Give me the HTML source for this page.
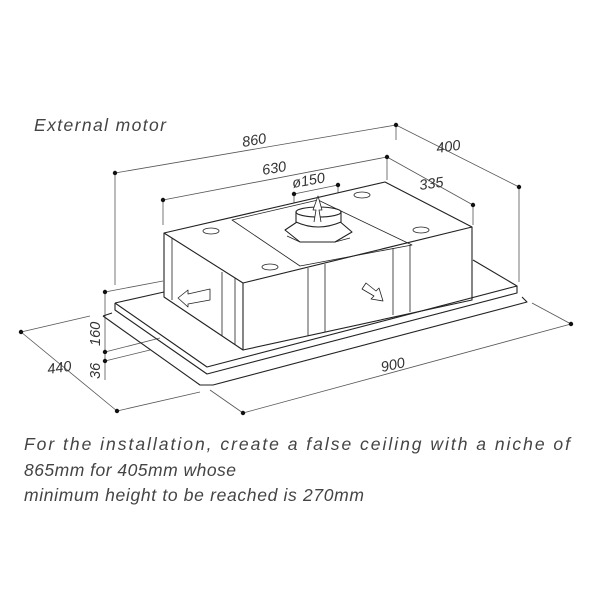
<!DOCTYPE html>
<html><head><meta charset="utf-8"><style>html,body{margin:0;padding:0;background:#fff}</style></head>
<body>
<svg width="600" height="600" viewBox="0 0 600 600" xmlns="http://www.w3.org/2000/svg" font-family="Liberation Sans, sans-serif" font-style="italic" fill="none">
<g stroke="#555" stroke-width="0.8">
<line x1="115" y1="173" x2="396" y2="125"/>
<line x1="396" y1="125" x2="519" y2="187"/>
<line x1="163" y1="200" x2="387" y2="157"/>
<line x1="387" y1="157" x2="473" y2="205"/>
<line x1="294" y1="194" x2="338" y2="185"/>
<line x1="115" y1="173" x2="115" y2="285"/>
<line x1="396" y1="125" x2="396" y2="140"/>
<line x1="519" y1="187" x2="519" y2="282"/>
<line x1="163" y1="200" x2="163" y2="225"/>
<line x1="387" y1="157" x2="387" y2="180"/>
<line x1="473" y1="205" x2="473" y2="225"/>
<line x1="294" y1="194" x2="294" y2="215"/>
<line x1="338" y1="185" x2="338" y2="205"/>
<line x1="105" y1="292" x2="105" y2="380"/>
<line x1="105" y1="292" x2="163" y2="281"/>
<line x1="105" y1="352" x2="160" y2="338"/>
<line x1="105" y1="361" x2="150" y2="350"/>
<line x1="21" y1="332" x2="117" y2="411"/>
<line x1="21" y1="332" x2="90" y2="316"/>
<line x1="117" y1="411" x2="200" y2="392"/>
<line x1="243" y1="413" x2="571" y2="324"/>
<line x1="243" y1="413" x2="210" y2="390"/>
<line x1="571" y1="324" x2="532" y2="303"/>
</g>
<g fill="#111">
<circle cx="115" cy="173" r="2.2"/><circle cx="396" cy="125" r="2.2"/><circle cx="519" cy="187" r="2.2"/>
<circle cx="163" cy="200" r="2.2"/><circle cx="387" cy="157" r="2.2"/><circle cx="473" cy="205" r="2.2"/>
<circle cx="294" cy="194" r="2.2"/><circle cx="338" cy="185" r="2.2"/>
<circle cx="105" cy="292" r="2.2"/><circle cx="105" cy="352" r="2.2"/><circle cx="105" cy="361" r="2.2"/>
<circle cx="21" cy="332" r="2.2"/><circle cx="117" cy="411" r="2.2"/><circle cx="243" cy="413" r="2.2"/><circle cx="571" cy="324" r="2.2"/>
</g>
<g stroke="#222" stroke-width="1.1" stroke-linejoin="round">
<path d="M103 316 L200 385 L213 385 L527 302 L522 297"/>
<path d="M103 316 L112 313"/>
<path d="M115 303 L207 367 L517 286 L473 260"/>
<path d="M115 303 L115 310 L207 374 L517 293 L517 286"/>
<path d="M115 303 L164 292"/>
<path d="M164 233 L385 182 L472 227 L243 283 Z" fill="#fff"/>
<path d="M164 233 L164 297 L243 350 L243 283"/>
<path d="M243 350 L472 300 L472 227"/>
<g stroke-width="0.8">
<line x1="172" y1="238" x2="172" y2="300"/>
<line x1="222" y1="272" x2="222" y2="336"/>
<line x1="235" y1="278" x2="235" y2="345"/>
<line x1="308" y1="268" x2="308" y2="336"/>
<line x1="325" y1="264" x2="325" y2="332"/>
<line x1="393" y1="248" x2="393" y2="315"/>
<line x1="410" y1="245" x2="410" y2="312"/>
<path d="M232 220 L318 200 L412 245 L300 266 Z"/>
<ellipse cx="211" cy="231" rx="8" ry="3"/>
<ellipse cx="270" cy="267" rx="8" ry="3"/>
<ellipse cx="362" cy="195" rx="8" ry="3"/>
<ellipse cx="421" cy="230" rx="8" ry="3"/>
</g>
<path d="M285 230 L300 220 L338 220 L352 232 L335 242 L300 242 Z" fill="#fff"/>
<path d="M287 236 L300 242 L335 242 L350 238" stroke-width="0.8"/>
<path d="M296 212 L296 222 Q318 232 341 222 L341 212" fill="#fff"/>
<ellipse cx="318.5" cy="212" rx="22.5" ry="5" fill="#fff"/>
<path d="M314 222 L316 210 L313 210 L318 196 L322 210 L319 210 L321 222" stroke-width="0.8" fill="#fff"/>
<path d="M178 298 L188 290 L188 294 L210 289 L210 300 L188 304 L188 307 Z" stroke-width="0.8" fill="#fff"/>
<path d="M362 289 L366 283 L376 291 L379 288 L383 301 L371 299 L374 296 Z" stroke-width="0.8" fill="#fff"/>
</g>
<g fill="#333" font-size="14.5">
<text x="243" y="147" transform="rotate(-10 243 147)">860</text>
<text x="263" y="175" transform="rotate(-10 263 175)">630</text>
<text x="293" y="188" transform="rotate(-10 293 188)">ø150</text>
<text x="420" y="190" transform="rotate(-8 420 190)">335</text>
<text x="437" y="153" transform="rotate(-8 437 153)">400</text>
<text x="382" y="372" transform="rotate(-12 382 372)">900</text>
<text x="48" y="374" transform="rotate(-8 48 374)">440</text>
<text x="100" y="346" transform="rotate(-90 100 346)">160</text>
<text x="100" y="379" transform="rotate(-90 100 379)">36</text>
</g>
<g fill="#444" font-size="17.5">
<text x="34" y="131" textLength="132">External motor</text>
<text x="24" y="450" textLength="546" lengthAdjust="spacing">For the installation, create a false ceiling with a niche of</text>
<text x="24" y="476" textLength="212" lengthAdjust="spacing">865mm for 405mm whose</text>
<text x="24" y="501" textLength="340" lengthAdjust="spacing">minimum height to be reached is 270mm</text>
</g>
</svg>
</body></html>
